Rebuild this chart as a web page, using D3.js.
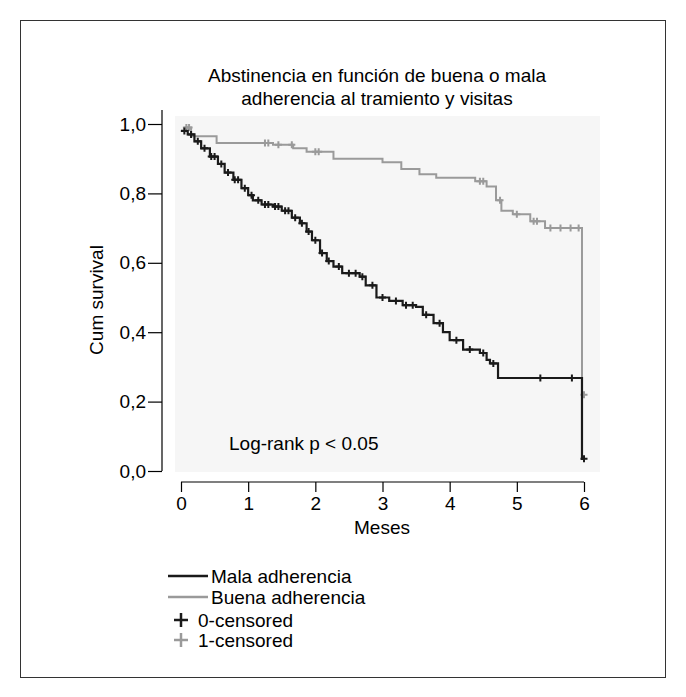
<!DOCTYPE html>
<html><head><meta charset="utf-8">
<script src="https://cdn.jsdelivr.net/npm/d3@7"></script>
<style>body{margin:0;background:#fff}text{font-family:Arial,"Liberation Sans",sans-serif}</style>
</head><body><div id="chart"></div>
<script>
// step curves: [time in months, cum survival]
var malaSteps = [[0,0.98],[0.1,0.97],[0.2,0.95],[0.3,0.93],[0.43,0.906],[0.55,0.885],[0.65,0.86],[0.78,0.839],[0.9,0.815],[1.0,0.795],[1.07,0.78],[1.2,0.768],[1.37,0.762],[1.5,0.75],[1.65,0.73],[1.77,0.714],[1.87,0.69],[1.95,0.665],[2.07,0.628],[2.17,0.605],[2.27,0.589],[2.4,0.57],[2.66,0.56],[2.75,0.535],[2.91,0.50],[3.1,0.49],[3.3,0.478],[3.5,0.473],[3.6,0.45],[3.76,0.426],[3.9,0.40],[4.0,0.377],[4.2,0.35],[4.45,0.34],[4.55,0.32],[4.6,0.31],[4.72,0.268],[5.97,0.035]];
var buenaSteps = [[0.05,0.99],[0.15,0.965],[0.53,0.945],[1.37,0.94],[1.67,0.93],[1.87,0.92],[2.27,0.90],[3.0,0.89],[3.28,0.87],[3.55,0.855],[3.8,0.845],[4.38,0.835],[4.55,0.82],[4.69,0.78],[4.77,0.75],[4.94,0.74],[5.2,0.72],[5.42,0.70],[5.97,0.22]];
var malaCensored = [0.05,0.15,0.25,0.35,0.45,0.5,0.6,0.7,0.8,0.85,0.95,1.05,1.15,1.25,1.3,1.4,1.45,1.55,1.6,1.7,1.8,1.9,2.0,2.1,2.2,2.35,2.5,2.6,2.7,2.85,3.0,3.2,3.35,3.45,3.65,3.85,4.1,4.3,4.5,4.65,5.35,5.82,6.0];
var buenaCensored = [0.08,0.12,1.25,1.3,1.45,1.65,2.0,2.05,4.45,4.5,4.75,5.0,5.25,5.3,5.5,5.65,5.8,5.92,6.0];
var yTicks = [0, 0.2, 0.4, 0.6, 0.8, 1.0];
var xTicks = [0, 1, 2, 3, 4, 5, 6];
var legendNames = ["Mala adherencia", "Buena adherencia", "0-censored", "1-censored"];
var black = "#1a1a1a", grey = "#9a9a9a";
var fs = 19;

var svg = d3.select('#chart').append('svg').attr('width', 686).attr('height', 697);
svg.append('rect').attr('x', 20.5).attr('y', 20.5).attr('width', 645).attr('height', 657)
  .attr('fill', 'none').attr('stroke', '#333').attr('stroke-width', 1);

var x = d3.scaleLinear().domain([0, 6]).range([181, 584]);
var y = d3.scaleLinear().domain([0, 1]).range([471, 124]);

// plot background
svg.append('rect').attr('x', 175).attr('y', 116).attr('width', 425).attr('height', 356).attr('fill', '#f6f6f6');

// title
svg.append('text').attr('x', 377).attr('y', 82).attr('text-anchor', 'middle').attr('font-size', fs).text('Abstinencia en función de buena o mala');
svg.append('text').attr('x', 377).attr('y', 105).attr('text-anchor', 'middle').attr('font-size', fs).text('adherencia al tramiento y visitas');

// axes
var leftAxis = d3.axisLeft(y).tickValues(yTicks).tickSize(14).tickFormat(d => d3.format('.1f')(d).replace('.', ','));
var gy = svg.append('g').attr('transform', 'translate(162,0)').call(leftAxis);
var bottomAxis = d3.axisBottom(x).tickValues(xTicks).tickSize(10).tickFormat(d3.format('d'));
var gx = svg.append('g').attr('transform', 'translate(0,482)').call(bottomAxis);
[gx, gy].forEach(function (g) {
  g.attr('font-size', null).attr('font-family', null);
  g.selectAll('text').attr('font-size', fs).attr('fill', '#000');
  g.selectAll('line,path').attr('stroke', '#000').attr('stroke-width', 1.2);
});
gy.select('.domain').attr('d', 'M0,110V471');
gx.select('.domain').attr('d', 'M181,0H584');
gy.selectAll('text').attr('x', -16);
gx.selectAll('text').attr('y', 15);

svg.append('text').attr('transform', 'translate(103,300) rotate(-90)').attr('text-anchor', 'middle').attr('font-size', fs).text('Cum survival');
svg.append('text').attr('x', 382).attr('y', 534).attr('text-anchor', 'middle').attr('font-size', fs).text('Meses');
svg.append('text').attr('x', 229).attr('y', 450).attr('font-size', fs).text('Log-rank p < 0.05');

// survival step lines
function stepPath(steps) {
  var pts = [];
  steps.forEach(function (s, i) {
    if (i > 0) pts.push([s[0], steps[i - 1][1]]);
    pts.push(s);
  });
  return pts;
}
var line = d3.line().x(d => x(d[0])).y(d => y(d[1]));
function levelAt(steps, t) {
  var v = steps[0][1];
  steps.forEach(function (s) { if (s[0] <= t) v = s[1]; });
  return v;
}
function drawCurve(steps, cens, color, w) {
  var pts = stepPath(steps);
  var last = pts[pts.length - 1];
  pts.push([6.0, last[1]]);
  svg.append('path').attr('d', line(pts)).attr('fill', 'none').attr('stroke', color).attr('stroke-width', w);
  svg.append('g').selectAll('path').data(cens).enter().append('path')
    .attr('d', function (t) {
      var px = x(t), py = y(levelAt(steps, t));
      return 'M' + (px - 3.5) + ',' + py + 'h7M' + px + ',' + (py - 3.5) + 'v7';
    })
    .attr('stroke', color).attr('stroke-width', 2);
}
drawCurve(buenaSteps, buenaCensored, grey, 2);
drawCurve(malaSteps, malaCensored, black, 2.2);

// legend
var leg = svg.append('g');
leg.append('line').attr('x1', 168).attr('x2', 208).attr('y1', 576).attr('y2', 576).attr('stroke', black).attr('stroke-width', 2.5);
leg.append('line').attr('x1', 168).attr('x2', 208).attr('y1', 597).attr('y2', 597).attr('stroke', grey).attr('stroke-width', 2.5);
leg.append('path').attr('d', 'M174,620h14M181,613v14').attr('stroke', black).attr('stroke-width', 2.5);
leg.append('path').attr('d', 'M174,640h14M181,633v14').attr('stroke', grey).attr('stroke-width', 2.5);
leg.selectAll('text').data(legendNames).enter().append('text')
  .attr('x', (d, i) => i < 2 ? 211 : 198)
  .attr('y', (d, i) => [583, 604, 627, 647][i])
  .attr('font-size', fs).text(d => d);
</script></body></html>
